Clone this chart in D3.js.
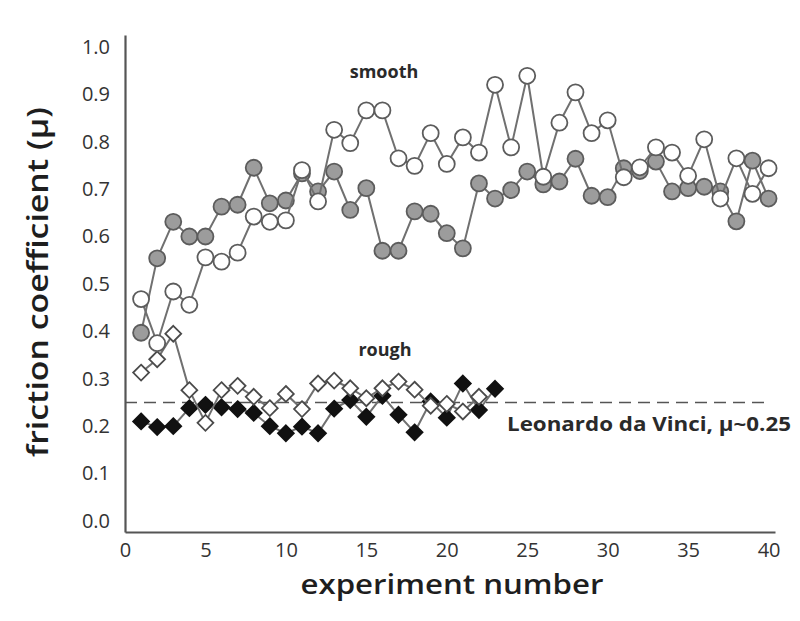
<!DOCTYPE html>
<html>
<head>
<meta charset="utf-8">
<script src="https://cdn.jsdelivr.net/npm/d3@7"></script>
<style>
  body { margin: 0; background: #fff; }
  svg { font-family: "Open Sans", "Noto Sans", sans-serif; }
</style>
</head>
<body>
<script>
'use strict';

// friction coefficient per experiment
var smoothOpen = [0.468, 0.375, 0.484, 0.456, 0.556, 0.547, 0.566, 0.642, 0.631, 0.634,
                  0.740, 0.674, 0.825, 0.797, 0.866, 0.866, 0.765, 0.749, 0.818, 0.753,
                  0.809, 0.777, 0.920, 0.788, 0.939, 0.726, 0.840, 0.904, 0.818, 0.845,
                  0.725, 0.746, 0.788, 0.777, 0.728, 0.805, 0.680, 0.765, 0.690, 0.744];
var smoothGray = [0.397, 0.554, 0.631, 0.600, 0.600, 0.663, 0.667, 0.745, 0.670, 0.676,
                  0.733, 0.695, 0.737, 0.656, 0.702, 0.570, 0.570, 0.653, 0.648, 0.607,
                  0.575, 0.712, 0.680, 0.698, 0.737, 0.710, 0.716, 0.764, 0.686, 0.683,
                  0.744, 0.738, 0.758, 0.695, 0.702, 0.705, 0.695, 0.632, 0.760, 0.680];
var roughOpen = [0.313, 0.341, 0.395, 0.276, 0.207, 0.276, 0.285, 0.262, 0.238, 0.268,
                 0.236, 0.290, 0.296, 0.280, 0.259, 0.280, 0.294, 0.277, 0.243, 0.247,
                 0.231, 0.262];
var roughBlack = [0.210, 0.198, 0.200, 0.238, 0.245, 0.240, 0.236, 0.228, 0.200, 0.185,
                  0.199, 0.185, 0.237, 0.255, 0.220, 0.264, 0.224, 0.187, 0.252, 0.218,
                  0.290, 0.234, 0.279];
var xTicks = [0, 5, 10, 15, 20, 25, 30, 35, 40];
var yTicks = [0, 0.1, 0.2, 0.3, 0.4, 0.5, 0.6, 0.7, 0.8, 0.9, 1.0];
var daVinci = 0.25;

var width = 800, height = 621;

var svg = d3.select("body").append("svg")
    .attr("width", width)
    .attr("height", height);

var x = d3.scaleLinear().domain([0, 40.4]).range([125, 775]);
var y = d3.scaleLinear().domain([-0.0232, 1.025]).range([532, 35]);

// axes (no tick marks, just the lines and labels)
var xAxis = svg.append("g")
    .attr("transform", "translate(0," + y(-0.0232) + ")")
    .call(d3.axisBottom(x).tickValues(xTicks).tickSize(0).tickPadding(11)
        .tickFormat(d3.format("d")));
var yAxis = svg.append("g")
    .attr("transform", "translate(" + x(0) + ",0)")
    .call(d3.axisLeft(y).tickValues(yTicks).tickSize(0).tickPadding(15)
        .tickFormat(d3.format(".1f")));

[xAxis, yAxis].forEach(function(a) {
  a.select(".domain").attr("stroke", "#555").attr("stroke-width", 2.2);
  a.selectAll("text")
      .attr("fill", "#333")
      .style("font-size", "20px")
      .style("font-family", "'Open Sans', sans-serif");
});

// Leonardo da Vinci reference line
svg.append("line")
    .attr("x1", x(0)).attr("x2", x(40))
    .attr("y1", y(daVinci)).attr("y2", y(daVinci))
    .attr("stroke", "#555")
    .attr("stroke-width", 1.6)
    .attr("stroke-dasharray", "12,7");

var line = d3.line()
    .x(function(d, i) { return x(i + 1); })
    .y(function(d) { return y(d); });

function drawLine(data) {
  svg.append("path")
      .datum(data)
      .attr("fill", "none")
      .attr("stroke", "#707070")
      .attr("stroke-width", 2)
      .attr("d", line);
}

function drawCircles(data, fill) {
  svg.append("g").selectAll("circle")
      .data(data)
      .enter().append("circle")
      .attr("cx", function(d, i) { return x(i + 1); })
      .attr("cy", function(d) { return y(d); })
      .attr("r", 8)
      .attr("fill", fill)
      .attr("stroke", "#5c5c5c")
      .attr("stroke-width", 1.8);
}

var diamond = d3.symbol().type(d3.symbolDiamond2).size(160);

function drawDiamonds(data, fill, stroke) {
  svg.append("g").selectAll("path")
      .data(data)
      .enter().append("path")
      .attr("d", diamond)
      .attr("transform", function(d, i) {
        return "translate(" + x(i + 1) + "," + y(d) + ")";
      })
      .attr("fill", fill)
      .attr("stroke", stroke)
      .attr("stroke-width", 1.8);
}

// rough surface
drawLine(roughBlack);
drawDiamonds(roughBlack, "#111", "#111");
drawLine(roughOpen);
drawDiamonds(roughOpen, "#fff", "#4a4a4a");

// smooth surface
drawLine(smoothGray);
drawCircles(smoothGray, "#9c9c9c");
drawLine(smoothOpen);
drawCircles(smoothOpen, "#fff");

// labels
svg.append("text")
    .attr("x", 384).attr("y", 78)
    .attr("text-anchor", "middle")
    .attr("font-size", 18).attr("font-weight", 700)
    .attr("fill", "#2a2a2a")
    .text("smooth");

svg.append("text")
    .attr("x", 385).attr("y", 356)
    .attr("text-anchor", "middle")
    .attr("font-size", 18).attr("font-weight", 700)
    .attr("fill", "#2a2a2a")
    .text("rough");

svg.append("text")
    .attr("x", 507).attr("y", 431)
    .attr("font-size", 19).attr("font-weight", 700)
    .attr("fill", "#2a2a2a")
    .attr("textLength", 284)
    .attr("lengthAdjust", "spacingAndGlyphs")
    .text("Leonardo da Vinci, μ~0.25");

svg.append("text")
    .attr("x", 452).attr("y", 594)
    .attr("text-anchor", "middle")
    .attr("font-size", 27).attr("font-weight", 600)
    .attr("fill", "#1e1e1e")
    .attr("textLength", 303)
    .attr("lengthAdjust", "spacingAndGlyphs")
    .text("experiment number");

svg.append("text")
    .attr("transform", "translate(48,282) rotate(-90)")
    .attr("text-anchor", "middle")
    .attr("font-size", 28).attr("font-weight", 600)
    .attr("fill", "#1e1e1e")
    .attr("textLength", 350)
    .attr("lengthAdjust", "spacingAndGlyphs")
    .text("friction coefficient (μ)");
</script>
</body>
</html>
